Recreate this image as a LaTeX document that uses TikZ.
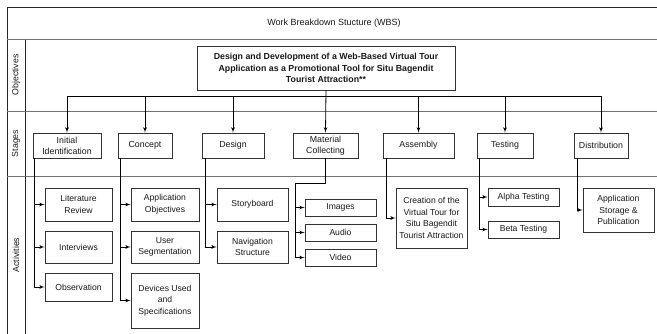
\documentclass[tikz,border=0pt]{standalone}
\usepackage{fontspec}
\setmainfont{Liberation Sans}
\usetikzlibrary{calc}
\usetikzlibrary{arrows}

\begin{document}
\begin{tikzpicture}[x=1pt, y=-1pt, line width=.8pt, >=latex',
 box/.style={draw=black!80, fill=white, align=center, inner sep=1pt, text=black!90},
 stage/.style={box, font=\fontsize{8.8}{11}\selectfont, minimum height=25pt},
 act/.style={box, font=\fontsize{8.6}{11.5}\selectfont, minimum width=71pt},
 lane/.style={rotate=90, font=\fontsize{8.8}{11}\selectfont, text=black!90},
 sep/.style={black!55},
 link/.style={black, ->}]
\useasboundingbox (0,0) rectangle (657,334);
% swimlane frame
\draw[black!85] (657,7) -- (7,7) -- (7,334);
\draw[black!85] (25,39) -- (25,334);
\foreach \y in {39,111,176} {
 \draw[sep] (7,\y) -- (657,\y);
}
\node[font=\fontsize{9}{11}\selectfont, text=black!90] (wbs) at (334,23) {Work Breakdown Stucture (WBS)};
\node[lane] (lobj) at (16,75) {Objectives};
\node[lane] (lstg) at (16,143.5) {Stages};
\node[lane] (lact) at (16,255) {Activities};

% objective
\node[box, font=\bfseries\fontsize{8.8}{11.5}\selectfont, minimum width=258pt, minimum height=44pt] (obj) at (326,68)
 {Design and Development of a Web-Based Virtual Tour\\Application as a Promotional Tool for Situ Bagendit\\Tourist Attraction**};

% stages
\node[stage, minimum width=68pt] (ini) at (67,145.5) {Initial\\Identification};
\node[stage, minimum width=54pt] (con) at (145,145.5) {Concept};
\node[stage, minimum width=62pt] (des) at (233,145.5) {Design};
\node[stage, minimum width=65pt] (mat) at (325.5,145.5) {Material\\Collecting};
\node[stage, minimum width=71pt] (asm) at (418.5,145.5) {Assembly};
\node[stage, minimum width=56pt] (tst) at (505,145.5) {Testing};
\node[stage, minimum width=54pt] (dis) at (601,145.5) {Distribution};

\coordinate (bus) at (0,96);
\draw[black] (ini.north |- bus) -- (dis.north |- bus);
\draw[link] (obj.south) -- (mat.north);
\foreach \s in {ini,con,des,asm,tst,dis} {
 \draw[link] (\s.north |- bus) -- (\s.north);
}

% activities
\node[act, minimum width=67pt, minimum height=33pt] (lit) at (78.5,204.5) {Literature\\Review};
\node[act, minimum width=67pt, minimum height=32pt] (itv) at (78.5,247) {Interviews};
\node[act, minimum width=67pt, minimum height=28pt] (obs) at (78.5,287) {Observation};

\node[act, minimum width=68pt, minimum height=33pt] (aob) at (165,204.5) {Application\\Objectives};
\node[act, minimum width=68pt, minimum height=32pt] (seg) at (165,247) {User\\Segmentation};
\node[act, minimum width=68pt, minimum height=55pt] (dev) at (165,300.5) {Devices Used\\and\\Specifications};

\node[act, minimum height=33pt] (sto) at (252.5,204.5) {Storyboard};
\node[act, minimum height=32pt] (nav) at (252.5,247) {Navigation\\Structure};

\node[act, minimum height=17pt] (img) at (340.5,207.5) {Images};
\node[act, minimum height=17pt] (aud) at (340.5,232.5) {Audio};
\node[act, minimum height=17pt] (vid) at (340.5,257.5) {Video};

\node[act, minimum height=60pt] (cre) at (431.5,218) {Creation of the\\Virtual Tour for\\Situ Bagendit\\Tourist Attraction};

\node[act, minimum height=18pt] (alp) at (523.5,197) {Alpha Testing};
\node[act, minimum height=17pt] (bet) at (523.5,229.5) {Beta Testing};

\node[act, minimum height=44pt] (app) at (618.5,210) {Application\\Storage \&\\Publication};

\foreach \s/\a in {ini/lit,ini/itv,ini/obs} {
 \draw[link] ($(\s.south west)+(2,0)$) |- (\a.west);
}
\foreach \s/\a in {con/aob,con/seg,con/dev,tst/alp,tst/bet} {
 \draw[link] ($(\s.south west)+(3,0)$) |- (\a.west);
}
\foreach \s/\a in {des/sto,des/nav,asm/cre,dis/app} {
 \draw[link] ($(\s.south west)+(4,0)$) |- (\a.west);
}
\coordinate (matbend) at (295,183);
\draw[black] (mat.south) |- (matbend);
\foreach \a in {img,aud,vid} {
 \draw[link] (matbend) |- (\a.west);
}
\end{tikzpicture}
\end{document}
